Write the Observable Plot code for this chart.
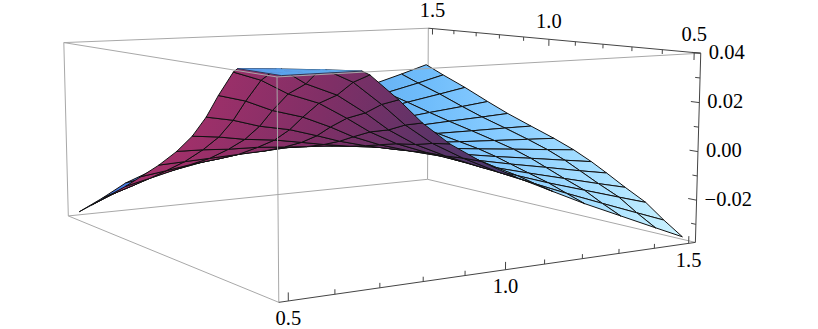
<!DOCTYPE html>
<html>
<head>
<meta charset="utf-8">
<script src="https://cdn.jsdelivr.net/npm/d3@7"></script>
<script src="https://cdn.jsdelivr.net/npm/@observablehq/plot@0.6"></script>
<style>
html,body{margin:0;padding:0;background:#fff}
svg{display:block}
</style>
</head>
<body>
<div id="chart"></div>
<script>
// Mesh line positions on both horizontal axes
const meshA = [0.5,0.56,0.62,0.69,0.755,0.81,0.875,0.95,1.04,1.135,1.22,1.32,1.42,1.5];
const meshB = meshA;
// Surface height at every mesh crossing, in units of 0.0001
const heights = [
[571,528,444,385,290,200,115,40,-35,-105,-167,-234,-301,-354],
[528,484,407,350,263,181,104,38,-30,-90,-142,-200,-257,-302],
[444,407,342,294,221,151,87,32,-25,-73,-116,-162,-208,-244],
[385,350,294,252,188,129,75,30,-19,-59,-93,-131,-169,-198],
[290,263,221,188,142,97,57,22,-14,-44,-71,-100,-130,-152],
[200,181,151,129,97,68,41,16,-8,-31,-52,-74,-97,-115],
[115,104,87,75,57,41,25,10,-5,-20,-34,-49,-65,-77],
[40,38,32,30,22,16,10,2,-3,-11,-19,-27,-35,-41],
[-35,-30,-25,-19,-14,-8,-5,-3,0,-1,-1,-2,-2,-3],
[-105,-90,-73,-59,-44,-31,-20,-11,-1,7,14,23,31,38],
[-167,-142,-116,-93,-71,-52,-34,-19,-1,14,29,48,65,80],
[-234,-200,-162,-131,-100,-74,-49,-27,-2,23,48,79,108,132],
[-301,-257,-208,-169,-130,-97,-65,-35,-2,31,65,108,146,179],
[-354,-302,-244,-198,-152,-115,-77,-41,-3,38,80,132,179,219]
];
const heightUnit = 0.0001;

// Box limits
const boxA = [0.48, 1.52];
const boxB = [0.48, 1.52];
const boxZ = [-0.0375, 0.04];

// Axis ticks
const ticksH = [0.5,0.6,0.7,0.8,0.9,1.0,1.1,1.2,1.3,1.4,1.5];
const majorH = [0.5,1.0,1.5];
const ticksZ = [0.04,0.03,0.02,0.01,0,-0.01,-0.02,-0.03];
const majorZ = [0.04,0.02,0,-0.02];
const labelsH = ["0.5","1.0","1.5"];
const labelsZ = ["0.04","0.02","0.00","\u22120.02"];

// Camera calibration: box corners as they appear on the page
const W = 818, H = 329;
const corners = [
  [0,0,0,278,302],[1,0,0,695,242],[1,1,0,427,179],[0,1,0,68,215],
  [0,0,1,277,77],[1,0,1,700,52],[1,1,1,428,28],[0,1,1,63,42]
];
function solve(M, b) {
  const n = b.length, a = M.map((r,i)=>[...r,b[i]]);
  for (let c=0;c<n;c++){
    let p=c; for(let r=c+1;r<n;r++) if(Math.abs(a[r][c])>Math.abs(a[p][c])) p=r;
    [a[c],a[p]]=[a[p],a[c]];
    for(let r=0;r<n;r++){ if(r===c) continue; const f=a[r][c]/a[c][c];
      for(let k=c;k<=n;k++) a[r][k]-=f*a[c][k]; }
  }
  return a.map((r,i)=>r[n]/r[i]);
}
const camera = (() => {
  const rows=[], rhs=[];
  for (const [X,Y,Z,u0,v0] of corners){
    const u=u0/800,v=v0/800;
    rows.push([X,Y,Z,1,0,0,0,0,-u*X,-u*Y,-u*Z]); rhs.push(u);
    rows.push([0,0,0,0,X,Y,Z,1,-v*X,-v*Y,-v*Z]); rhs.push(v);
  }
  const N=Array.from({length:11},(_,i)=>Array.from({length:11},(_,j)=>d3.sum(rows,r=>r[i]*r[j])));
  const t=Array.from({length:11},(_,i)=>d3.sum(rows,(r,k)=>r[i]*rhs[k]));
  return solve(N,t);
})();
function project(a,b,z){
  const X=(a-boxA[0])/(boxA[1]-boxA[0]), Y=(b-boxB[0])/(boxB[1]-boxB[0]), Z=(z-boxZ[0])/(boxZ[1]-boxZ[0]);
  const p=camera, w=p[8]*X+p[9]*Y+p[10]*Z+1;
  return {x:800*(p[0]*X+p[1]*Y+p[2]*Z+p[3])/w, y:800*(p[4]*X+p[5]*Y+p[6]*Z+p[7])/w, w};
}

// Surface cells, cut at the top of the box
const cap = boxZ[1];
function cut(poly, keep){
  const out=[];
  poly.forEach((p,i)=>{
    const q=poly[(i+1)%poly.length], pk=keep(p[2]), qk=keep(q[2]);
    if(pk) out.push(p);
    if(pk!==qk){ const t=(cap-p[2])/(q[2]-p[2]); out.push([p[0]+t*(q[0]-p[0]),p[1]+t*(q[1]-p[1]),cap]); }
  });
  return out;
}
function area(pts){ return d3.sum(pts,(p,i)=>{const q=pts[(i+1)%pts.length];return p.x*q.y-q.x*p.y;}); }
const cells=[], flats=[];
for(let i=0;i<meshA.length-1;i++) for(let j=0;j<meshB.length-1;j++){
  const v=(a,b)=>[meshA[a],meshB[b],heights[a][b]*heightUnit];
  const poly=[v(i,j),v(i+1,j),v(i+1,j+1),v(i,j+1)];
  const below=cut(poly,z=>z<=cap), above=cut(poly,z=>z>=cap);
  if(below.length>2){
    const pts=below.map(p=>project(...p));
    cells.push({pts,depth:d3.mean(pts,p=>p.w),fill:area(pts)<0?"url(#topSide)":"url(#underSide)"});
  }
  if(above.length>2) flats.push({pts:above.map(p=>project(p[0],p[1],cap))});
}
cells.sort((a,b)=>b.depth-a.depth);
const cellRows=cells.flatMap((c,id)=>[...c.pts,c.pts[0]].map(p=>({x:p.x,y:p.y,id,fill:c.fill})));
const flatRows=flats.flatMap((c,id)=>[...c.pts,c.pts[0]].map(p=>({x:p.x,y:p.y,id})));

// Rim of the flat cut-off part
const rimA=[0.5,0.5,0.672], rimB=[0.672,0.5,0.5];
const rimRows=rimA.map((a,i)=>project(a,rimB[i],cap));

// Box edges
const [a0,a1]=boxA,[b0,b1]=boxB,[z0,z1]=boxZ;
const edge=(p,q)=>({p:project(...p),q:project(...q)});
const backEdges=[
  edge([a0,b1,z1],[a1,b1,z1]),
  edge([a1,b1,z1],[a1,b1,z0]),
  edge([a0,b1,z0],[a1,b1,z0]),
  edge([a1,b1,z0],[a1,b0,z0]),
  edge([a0,b1,z1],[a0,b1,z0])
];
const frontEdges=[
  edge([a0,b0,z1],[a0,b0,z0]),
  edge([a0,b1,z1],[a0,b0,z1]),
  edge([a0,b0,z1],[a1,b0,z1]),
  edge([a0,b1,z0],[a0,b0,z0])
];
const axisEdges=[
  edge([a0,b0,z0],[a1,b0,z0]),
  edge([a1,b0,z0],[a1,b0,z1]),
  edge([a1,b1,z1],[a1,b0,z1])
];
// Ticks
const isMajor=(list,t)=>list.some(m=>Math.abs(m-t)<1e-9);
const tickRows=[
  ...ticksH.map(t=>{const l=isMajor(majorH,t)?0.003:0.0018;return edge([t,b0,z0],[t,b0,z0+l]);}),
  ...ticksH.map(t=>{const l=isMajor(majorH,t)?0.003:0.0018;return edge([a1,t,z1],[a1,t,z1-l]);}),
  ...ticksZ.map(t=>{const l=isMajor(majorZ,t)?0.026:0.015;return edge([a1,b0,t],[a1,b0+l,t]);})
];
const frontLabels=majorH.map((t,i)=>({...project(t,b0,z0),text:labelsH[i]}));
const backLabels=majorH.map((t,i)=>({...project(a1,t,z1),text:labelsH[i]}));
const zLabels=majorZ.map((t,i)=>({...project(a1,b0,t),text:labelsZ[i]}));

// Paint servers for the two sides of the surface
function gradient(id,x1,y1,x2,y2,stops){
  const ns="http://www.w3.org/2000/svg", g=document.createElementNS(ns,"linearGradient");
  g.setAttribute("id",id); g.setAttribute("gradientUnits","userSpaceOnUse");
  g.setAttribute("x1",x1); g.setAttribute("y1",y1); g.setAttribute("x2",x2); g.setAttribute("y2",y2);
  for(const [o,c] of stops){ const s=document.createElementNS(ns,"stop"); s.setAttribute("offset",o); s.setAttribute("stop-color",c); g.appendChild(s); }
  return g;
}
const paints=()=>{
  const d=document.createElementNS("http://www.w3.org/2000/svg","defs");
  d.appendChild(gradient("topSide",78,0,682,0,[[0,"#3f6ce0"],[0.12,"#4f86ea"],[0.37,"#5ca6ec"],[0.58,"#70bdfb"],[0.7,"#88ccff"],[0.86,"#a8e0ff"],[1,"#ccf3ff"]]));
  d.appendChild(gradient("underSide",190,90,510,190,[[0,"#a2306a"],[0.4,"#7f2f66"],[0.75,"#5b3468"],[1,"#45396f"]]));
  return d;
};

const font="'Liberation Serif','Times New Roman',serif";
const edgeMark=(rows,stroke)=>Plot.link(rows,{x1:d=>d.p.x,y1:d=>d.p.y,x2:d=>d.q.x,y2:d=>d.q.y,stroke,strokeWidth:1});

const chart=Plot.plot({
  width:W,height:H,
  marginTop:0,marginRight:0,marginBottom:0,marginLeft:0,
  x:{domain:[0,W],range:[0,W],axis:null},
  y:{domain:[0,H],range:[0,H],axis:null},
  style:{background:"#fff",fontFamily:font},
  marks:[
    paints,
    edgeMark(backEdges,"#a8a8a8"),
    Plot.line(cellRows,{x:"x",y:"y",z:"id",fill:{value:"fill",scale:null},stroke:"#111",strokeWidth:1,strokeLinejoin:"round"}),
    Plot.line(flatRows,{x:"x",y:"y",z:"id",fill:"url(#topSide)",stroke:"url(#topSide)",strokeWidth:0.5}),
    Plot.line(rimRows,{x:"x",y:"y",stroke:"#223",strokeWidth:0.8}),
    edgeMark(frontEdges,"#a8a8a8"),
    edgeMark(axisEdges,"#444"),
    edgeMark(tickRows,"#444"),
    Plot.text(frontLabels,{x:"x",y:"y",text:"text",dy:17,fontSize:20.5,fill:"#000"}),
    Plot.text(backLabels,{x:"x",y:"y",text:"text",dy:-18,fontSize:20.5,fill:"#000"}),
    Plot.text(zLabels,{x:"x",y:"y",text:"text",textAnchor:"start",dx:8,dy:-1,fontSize:20.5,fill:"#000"})
  ]
});
document.getElementById("chart").appendChild(chart);
</script>
</body>
</html>
